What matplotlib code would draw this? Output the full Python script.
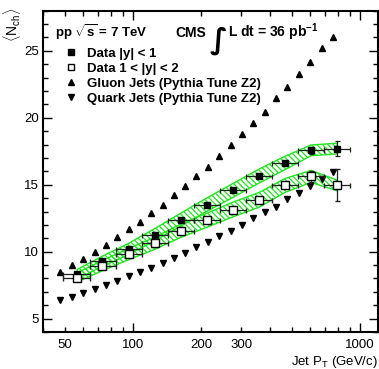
import matplotlib
matplotlib.use("Agg")
import matplotlib.pyplot as plt
from matplotlib.lines import Line2D
from matplotlib.ticker import FixedLocator, FixedFormatter, MultipleLocator, FuncFormatter
import numpy as np

plt.rcParams['font.family'] = ['Liberation Sans', 'DejaVu Sans']
plt.rcParams['mathtext.fontset'] = 'custom'
plt.rcParams['mathtext.rm'] = 'Liberation Sans'
plt.rcParams['mathtext.bf'] = 'Liberation Sans:bold'
plt.rcParams['mathtext.it'] = 'Liberation Sans:italic'
plt.rcParams['hatch.linewidth'] = 0.9

# ---- data ----
mc_pt = [47.9, 53.9, 60.3, 67.8, 76.1, 85.3, 95.6, 107, 120, 135, 151, 170, 190,
         214, 240, 269, 302, 338, 382, 427, 479, 539, 604, 678, 761]
gluon_nch = [8.50, 9.02, 9.45, 9.95, 10.52, 11.07, 11.68, 12.25, 12.87, 13.50, 14.22,
             14.87, 15.62, 16.30, 17.12, 17.95, 18.77, 19.58, 20.45, 21.50, 22.33,
             23.25, 24.20, 25.25, 26.03]
quark_nch = [6.37, 6.65, 6.95, 7.20, 7.50, 7.82, 8.15, 8.45, 8.77, 9.15, 9.55, 9.90,
             10.32, 10.75, 11.15, 11.52, 12.0, 12.50, 12.95, 13.35, 13.93, 14.38,
             14.90, 15.43, 15.95]

data_pt = [56.7, 73.0, 95.6, 124.5, 162.6, 211.7, 275.4, 359.4, 467.8, 608.6, 792]
bin_edges = [49.3, 64.4, 83.8, 109, 142, 185, 241, 314, 409, 532, 693, 900]

central_nch = [8.32, 9.27, 10.20, 11.27, 12.40, 13.52, 14.57, 15.65, 16.63, 17.57, 17.70]
central_stat = [0.05, 0.05, 0.05, 0.05, 0.05, 0.06, 0.07, 0.08, 0.1, 0.25, 0.53]
central_sys = [0.35, 0.38, 0.42, 0.45, 0.48, 0.50, 0.52, 0.52, 0.50, 0.40, 0.40]

forward_nch = [8.07, 8.95, 9.82, 10.62, 11.57, 12.35, 13.15, 13.87, 14.95, 15.62, 14.95]
forward_stat = [0.08, 0.08, 0.08, 0.08, 0.08, 0.09, 0.1, 0.12, 0.15, 0.4, 1.2]
forward_sys = [0.35, 0.38, 0.42, 0.45, 0.50, 0.52, 0.55, 0.55, 0.52, 0.45, 0.40]

legend_labels = ['Data |y| < 1', 'Data 1 < |y| < 2',
                 'Gluon Jets (Pythia Tune Z2)', 'Quark Jets (Pythia Tune Z2)']
x_major_vals = [100, 1000]
x_major_labels = ['100', '1000']
x_minor_labels = {50: '50', 200: '200', 300: '300'}

# ---- figure ----
fig = plt.figure(figsize=(3.79, 3.69), dpi=100)
ax = fig.add_axes([42.7/379, 1-332/369, (378-42.7)/379, (332-10.7)/369])
ax.set_xscale('log')
ax.set_xlim(40, 1200)
ax.set_ylim(4, 28)

green = '#1ee61e'
x = np.array(data_pt)
edges = np.array(bin_edges)
xerr = np.vstack([x - edges[:-1], edges[1:] - x])

for nch, sys in [(central_nch, central_sys), (forward_nch, forward_sys)]:
    nch = np.array(nch); sys = np.array(sys)
    ax.fill_between(x, nch - sys, nch + sys, facecolor='none', edgecolor=green,
                    hatch='\\' * 6, linewidth=1.0, zorder=2)

ax.plot(mc_pt, gluon_nch, linestyle='none', marker='^', color='black', markersize=4.3, zorder=3)
ax.plot(mc_pt, quark_nch, linestyle='none', marker='v', color='black', markersize=4.3, zorder=3)

ax.errorbar(x, central_nch, xerr=xerr, yerr=central_stat, fmt='s', color='black',
            markersize=5, ecolor='#222222', elinewidth=0.9, capsize=1.8, capthick=0.9, zorder=4)
ax.errorbar(x, forward_nch, xerr=xerr, yerr=forward_stat, fmt='s', mfc='white', mec='black',
            mew=1.0, markersize=5.5, ecolor='#222222', elinewidth=0.9, capsize=1.8,
            capthick=0.9, zorder=5)

# ticks
ax.xaxis.set_major_locator(FixedLocator(x_major_vals))
ax.xaxis.set_minor_locator(FixedLocator([40, 50, 60, 70, 80, 90, 200, 300, 400, 500,
                                         600, 700, 800, 900]))
ax.xaxis.set_major_formatter(FixedFormatter(x_major_labels))
ax.xaxis.set_minor_formatter(FuncFormatter(
    lambda v, p: x_minor_labels.get(int(round(v)), '')))
ax.yaxis.set_major_locator(MultipleLocator(5))
ax.yaxis.set_minor_locator(MultipleLocator(1))
ax.tick_params(which='both', direction='in', top=True, right=True, width=1.0,
               labelsize=9.5, colors='black')
ax.tick_params(which='major', length=6.7)
ax.tick_params(which='minor', length=3.5)
ax.tick_params(axis='x', which='both', pad=5)
ax.tick_params(axis='y', which='both', pad=2.5)
for s in ax.spines.values():
    s.set_linewidth(1.5)

# labels
ax.set_xlabel(r'Jet P$_{\rm T}$ (GeV/c)', fontsize=9.5, loc='right', labelpad=2)
fig.text(12.5/379, 1-7/369, r'$\langle$N$_{\rm ch}\rangle$', rotation=90, ha='center',
         va='top', fontsize=10)

# annotation text
ax.text(0.037, 0.917, r'pp $\sqrt{\mathbf{s}}$ = 7 TeV', transform=ax.transAxes,
        fontsize=9.5, fontweight='bold', va='baseline', ha='left')
ax.text(0.3946, 0.917, 'CMS', transform=ax.transAxes, fontsize=10, fontweight='bold',
        va='baseline', ha='left')
ax.text(0.525, 0.905, '\u222B', transform=ax.transAxes, fontsize=21, fontweight='bold',
        family='DejaVu Sans', va='center', ha='center')
ax.text(0.553, 0.917, r'L dt = 36 pb$^{\mathbf{-1}}$', transform=ax.transAxes,
        fontsize=10, fontweight='bold', va='baseline', ha='left')

handles = [Line2D([], [], linestyle='none', marker='s', color='black', markersize=4.5),
           Line2D([], [], linestyle='none', marker='s', mfc='white', mec='black', markersize=4.5),
           Line2D([], [], linestyle='none', marker='^', color='black', markersize=3.8),
           Line2D([], [], linestyle='none', marker='v', color='black', markersize=3.8)]
leg = ax.legend(handles, legend_labels, loc='upper left', bbox_to_anchor=(0.065, 0.885),
                frameon=False, borderpad=0, borderaxespad=0, handlelength=1.0,
                handletextpad=0.7, labelspacing=0.2,
                prop={'size': 9.5, 'weight': 'bold'})

fig.savefig('out.png', dpi=100)
